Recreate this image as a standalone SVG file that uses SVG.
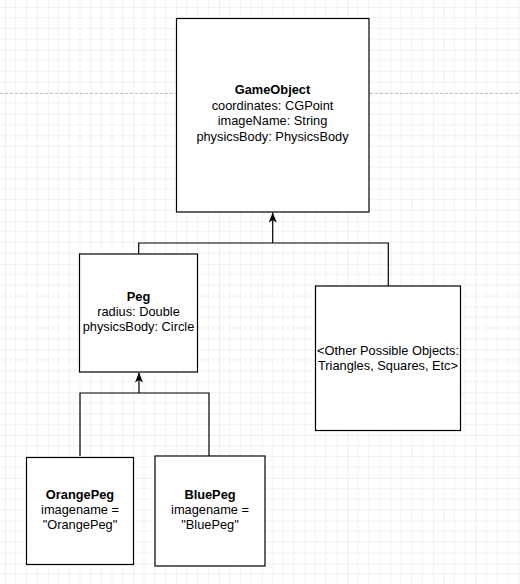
<svg xmlns="http://www.w3.org/2000/svg" width="520" height="584" viewBox="0 0 520 584">
  <defs>
    <pattern id="grid" patternUnits="userSpaceOnUse" x="5" y="7" width="42.8" height="42.8">
      <g stroke="#f1f1f1" stroke-width="1" fill="none">
        <path d="M10.7 0V42.8M21.4 0V42.8M32.1 0V42.8M0 10.7H42.8M0 21.4H42.8M0 32.1H42.8"/>
      </g>
      <path d="M0 0V42.8M0 0H42.8" stroke="#e2e2e2" stroke-width="1" fill="none"/>
    </pattern>
    <marker id="arrow" viewBox="0 0 10 10" refX="10" refY="5" markerWidth="10" markerHeight="10" markerUnits="userSpaceOnUse" orient="auto">
      <path d="M0 1 L10 5 L0 9 L2.5 5 Z" fill="#000"/>
    </marker>
    <style>
      .box { fill: #fff; stroke: #000; stroke-width: 1.2; }
      .conn { fill: none; stroke: #000; stroke-width: 1.2; }
      text { font-family: "Liberation Sans", Arial, Helvetica, sans-serif; font-size: 12.8px; fill: #000; text-anchor: middle; }
      .b { font-weight: bold; }
    </style>
  </defs>
  <rect width="520" height="584" fill="#fff"/>
  <rect width="520" height="584" fill="url(#grid)"/>
  <line x1="0" y1="93.5" x2="520" y2="93.5" stroke="#c4c4c4" stroke-width="1" stroke-dasharray="3 2"/>

  <g id="connectors">
    <path class="conn" d="M138.7 254 V243 H388.3 V286"/>
    <path class="conn" d="M272.7 243 V212.5" marker-end="url(#arrow)"/>
    <path class="conn" d="M80 456 V393 H209 V456"/>
    <path class="conn" d="M139 393 V372.5" marker-end="url(#arrow)"/>
  </g>

  <g id="GameObject">
    <rect class="box" x="176.5" y="18.5" width="192.5" height="193.5"/>
    <text x="272.5" y="94" class="b">GameObject</text>
    <text x="272.5" y="109.5">coordinates: CGPoint</text>
    <text x="272.5" y="125">imageName: String</text>
    <text x="272.5" y="140.5">physicsBody: PhysicsBody</text>
  </g>

  <g id="Peg">
    <rect class="box" x="79.5" y="254" width="118" height="118"/>
    <text x="138.5" y="300.5" class="b">Peg</text>
    <text x="138.5" y="315.5">radius: Double</text>
    <text x="138.5" y="331">physicsBody: Circle</text>
  </g>

  <g id="OtherObjects">
    <rect class="box" x="315.5" y="286" width="145" height="144.5"/>
    <text x="388" y="355">&lt;Other Possible Objects:</text>
    <text x="388" y="369.5">Triangles, Squares, Etc&gt;</text>
  </g>

  <g id="OrangePeg">
    <rect class="box" x="26.5" y="457.5" width="107" height="107"/>
    <text x="80" y="499" class="b">OrangePeg</text>
    <text x="80" y="513.5">imagename =</text>
    <text x="80" y="529">"OrangePeg"</text>
  </g>

  <g id="BluePeg">
    <rect class="box" x="155" y="456" width="110" height="110"/>
    <text x="210" y="499" class="b">BluePeg</text>
    <text x="210" y="513.5">imagename =</text>
    <text x="210" y="529">"BluePeg"</text>
  </g>
</svg>
